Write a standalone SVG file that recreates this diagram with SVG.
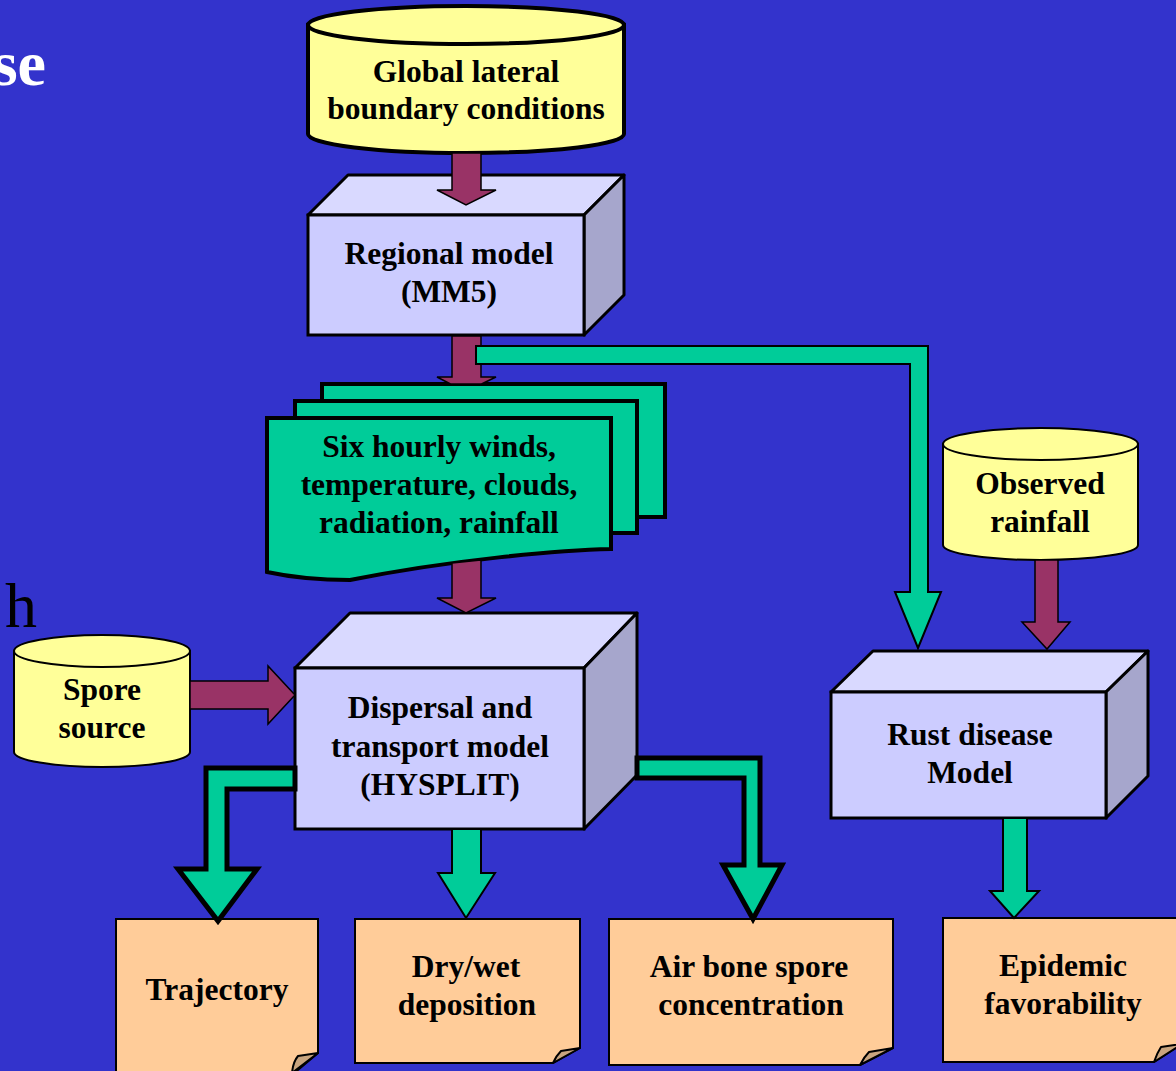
<svg xmlns="http://www.w3.org/2000/svg" width="1176" height="1071" viewBox="0 0 1176 1071">
<style>
.t{font-family:"Liberation Serif","Times New Roman",serif;font-weight:bold;font-size:31.5px;fill:#000;text-anchor:middle}
.cyl{fill:#FFFF99;stroke:#000}
.top{fill:#D9D9FF;stroke:#000;stroke-width:3;stroke-linejoin:round}
.front{fill:#CCCCFF;stroke:#000;stroke-width:3}
.side{fill:#A6A6CC;stroke:#000;stroke-width:3;stroke-linejoin:round}
.mar{fill:#993366;stroke:#000;stroke-width:1.5}
.grn{fill:#00CC99;stroke:#000;stroke-width:2}
.grnb{fill:#00CC99;stroke:#000;stroke-width:5;stroke-linejoin:miter}
.doc{fill:#00CC99;stroke:#000;stroke-width:4}
.note{fill:#FFCC99;stroke:#000;stroke-width:2}
.fold{fill:#C9A57F;stroke:#000;stroke-width:2;stroke-linejoin:round}
</style>
<rect x="0" y="0" width="1176" height="1071" fill="#3333CC"/>
<text x="46" y="85" font-family="Liberation Serif, serif" font-weight="bold" font-size="64" fill="#FFFFFF" text-anchor="end">se</text>
<text x="37" y="627" font-family="Liberation Serif, serif" font-size="64" fill="#000000" text-anchor="end">h</text>

<g id="global-lateral">
  <path class="cyl" stroke-width="4" d="M308,25 V134 A158,19 0 0 0 624,134 V25 Z"/>
  <ellipse class="cyl" stroke-width="4" cx="466" cy="25" rx="158" ry="19"/>
  <text class="t" x="466" y="82">Global lateral</text>
  <text class="t" x="466" y="119">boundary conditions</text>
</g>

<g id="regional-model">
  <path class="top" d="M308,215 L348,175 H624 L584,215 Z"/>
  <path class="side" d="M584,215 L624,175 V295 L584,335 Z"/>
  <rect class="front" x="308" y="215" width="276" height="120"/>
  <text class="t" x="449" y="264">Regional model</text>
  <text class="t" x="449" y="302">(MM5)</text>
</g>

<g id="six-hourly">
  <rect class="doc" x="322" y="384" width="343" height="133"/>
  <rect class="doc" x="295" y="401" width="342" height="132"/>
  <path class="doc" d="M267,418 H611 V549 C560,550 450,560 350,580 C320,580 290,577 267,572 Z"/>
  <text class="t" x="439" y="457">Six hourly winds,</text>
  <text class="t" x="439" y="495">temperature, clouds,</text>
  <text class="t" x="439" y="533">radiation, rainfall</text>
</g>

<g id="spore-source">
  <path class="cyl" stroke-width="2" d="M14,651 V752 A88,15 0 0 0 190,752 V651 Z"/>
  <ellipse class="cyl" stroke-width="2" cx="102" cy="651" rx="88" ry="16"/>
  <text class="t" x="102" y="700">Spore</text>
  <text class="t" x="102" y="738">source</text>
</g>

<g id="dispersal-model">
  <path class="top" d="M295,668 L350,613 H637 L584,668 Z"/>
  <path class="side" d="M584,668 L637,613 V775 L584,829 Z"/>
  <rect class="front" x="295" y="668" width="289" height="161"/>
  <text class="t" x="440" y="718">Dispersal and</text>
  <text class="t" x="440" y="757">transport model</text>
  <text class="t" x="440" y="795">(HYSPLIT)</text>
</g>

<g id="observed-rainfall">
  <path class="cyl" stroke-width="2" d="M943,444 V545 A97.5,15 0 0 0 1138,545 V444 Z"/>
  <ellipse class="cyl" stroke-width="2" cx="1040.5" cy="444" rx="97.5" ry="16"/>
  <text class="t" x="1040" y="494">Observed</text>
  <text class="t" x="1040" y="532">rainfall</text>
</g>

<g id="rust-disease-model">
  <path class="top" d="M831,692 L873,651 H1148 L1106,692 Z"/>
  <path class="side" d="M1106,692 L1148,651 V776 L1106,818 Z"/>
  <rect class="front" x="831" y="692" width="275" height="126"/>
  <text class="t" x="970" y="745">Rust disease</text>
  <text class="t" x="970" y="783">Model</text>
</g>

<g id="trajectory">
  <path class="note" d="M116,919 H318 V1053 L292,1075 H116 Z"/>
  <path class="fold" d="M318,1053 L298,1056 Q293,1062 292,1073 Z"/>
  <text class="t" x="217" y="1000">Trajectory</text>
</g>

<g id="dry-wet-deposition">
  <path class="note" d="M355,919 H580 V1048 L553,1063 H355 Z"/>
  <path class="fold" d="M580,1048 L561,1051 Q556,1056 553,1063 Z"/>
  <text class="t" x="466" y="977">Dry/wet</text>
  <text class="t" x="467" y="1015">deposition</text>
</g>

<g id="air-bone-spore">
  <path class="note" d="M609,919 H893 V1048 L860,1065 H609 Z"/>
  <path class="fold" d="M893,1048 L869,1052 Q864,1057 860,1065 Z"/>
  <text class="t" x="749" y="977">Air bone spore</text>
  <text class="t" x="751" y="1015">concentration</text>
</g>

<g id="epidemic-favorability">
  <path class="note" d="M943,918 H1182 V1044 L1154,1062 H943 Z"/>
  <path class="fold" d="M1182,1044 L1161,1047 Q1157,1053 1154,1062 Z"/>
  <text class="t" x="1063" y="976">Epidemic</text>
  <text class="t" x="1063" y="1014">favorability</text>
</g>

<g id="connectors">
  <path class="mar" d="M452,153 V190 H437 L466,205 L496,190 H481 V153 Z"/>
  <path class="mar" d="M452,336 V377 H437 L450.5,384 H481.5 L496,377 H481 V336 Z"/>
  <path class="mar" d="M452,563 V598 H437 L466,613 L496,598 H481 V560 Z"/>
  <path class="mar" d="M190,681 H268 V666 L295,695 L268,724 V709 H190 Z"/>
  <path class="mar" d="M1035,560 V622 H1022 L1047,649 L1070,622 H1058 V560 Z"/>
  <path class="grn" d="M476,346 H928 V592 H941 L918,648 L895,592 H910 V364 H476 Z"/>
  <path class="grnb" d="M295,768 H206 V869 H178 L218,921 L257,869 H227 V789 H295 Z"/>
  <path class="grnb" d="M637,758 H760 V865 H782 L753,919 L723,865 H744 V778 H637 Z"/>
  <path class="grn" d="M452,829 V873 H438 L466,918 L495,873 H481 V829 Z"/>
  <path class="grn" d="M1003,818 V891 H990 L1014,918 L1039,891 H1027 V818 Z"/>
</g>
</svg>
